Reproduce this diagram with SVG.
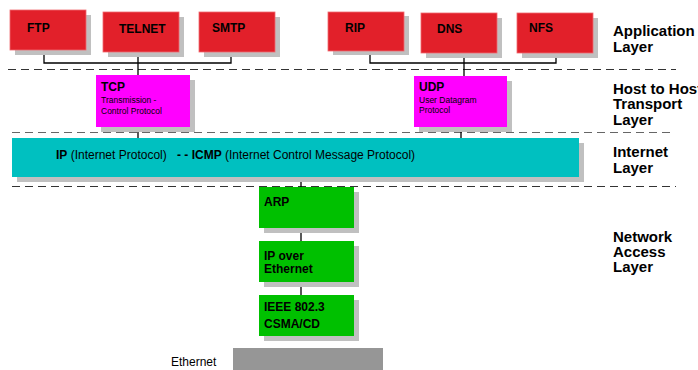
<svg xmlns="http://www.w3.org/2000/svg" width="698" height="370" viewBox="0 0 698 370">
<style>
text{font-family:"Liberation Sans",Arial,sans-serif;fill:#000}
.b{font-weight:bold;font-size:12px}
.s{font-size:8.5px}
.n{font-size:12px}
.lay{font-weight:bold;font-size:15px}
.sh{fill:#c0c0c0}
.red{fill:#e2202a;stroke:#ef6a70;stroke-width:0.8}
.mag{fill:#ff00ff}
.cy{fill:#00c0c0}
.gr{fill:#00c000}
.dash{stroke:#333;stroke-width:1.2;stroke-dasharray:8 5;fill:none}
.con{stroke:#000;stroke-width:1.3;fill:none}
</style>
<rect width="698" height="370" fill="#fff"/>
<g id="separators">
<line class="dash" x1="8" y1="69.5" x2="676" y2="69.5"/>
<line class="dash" x1="12" y1="132.5" x2="670" y2="132.5" style="stroke:#666"/>
<line class="dash" x1="12" y1="186.5" x2="676" y2="186.5"/>
</g>
<g id="connectors">
<path class="con" d="M44 54V63H231V57M138 52V75"/>
<path class="con" d="M370 54V63H556V57M464 53V76"/>
<path class="con" d="M138 127V138M461 127V138"/>
<path class="con" d="M301 177V187M301 228V241M301 282V295"/>
</g>
<g id="ftp"><rect class="sh" x="15" y="15" width="76" height="40"/><rect class="red" x="10" y="10" width="76" height="40"/><text class="b" x="27" y="32">FTP</text></g>
<g id="telnet"><rect class="sh" x="108" y="17" width="76" height="40"/><rect class="red" x="103" y="12" width="76" height="40"/><text class="b" x="119" y="33">TELNET</text></g>
<g id="smtp"><rect class="sh" x="204" y="17" width="76" height="40"/><rect class="red" x="199" y="12" width="76" height="40"/><text class="b" x="212" y="32">SMTP</text></g>
<g id="rip"><rect class="sh" x="333" y="16" width="76" height="39"/><rect class="red" x="328" y="12" width="76" height="39"/><text class="b" x="345" y="32">RIP</text></g>
<g id="dns"><rect class="sh" x="426" y="18" width="76" height="40"/><rect class="red" x="421" y="13" width="76" height="40"/><text class="b" x="437" y="33">DNS</text></g>
<g id="nfs"><rect class="sh" x="522" y="18" width="76" height="40"/><rect class="red" x="517" y="13" width="76" height="40"/><text class="b" x="529" y="32">NFS</text></g>
<g id="tcp"><rect class="sh" x="101" y="80" width="94" height="52"/><rect class="mag" x="96" y="75" width="94" height="52"/><text class="b" x="101" y="91">TCP</text><text class="s" x="101" y="103">Transmission -</text><text class="s" x="101" y="114">Control Protocol</text></g>
<g id="udp"><rect class="sh" x="419" y="81" width="93" height="51"/><rect class="mag" x="414" y="76" width="93" height="51"/><text class="b" x="419" y="91">UDP</text><text class="s" x="419" y="103">User Datagram</text><text class="s" x="419" y="113">Protocol</text></g>
<g id="ip"><rect class="sh" x="17" y="143" width="567" height="39"/><rect class="cy" x="12" y="138" width="567" height="39"/><text class="n" y="159"><tspan x="56" font-weight="bold">IP</tspan><tspan> (Internet Protocol)</tspan><tspan x="177" font-weight="bold">- - ICMP</tspan><tspan> (Internet Control Message Protocol)</tspan></text></g>
<g id="arp"><rect class="sh" x="264" y="192" width="95" height="41"/><rect class="gr" x="259" y="187" width="95" height="41"/><text class="b" x="264" y="206">ARP</text></g>
<g id="ipoe"><rect class="sh" x="264" y="246" width="95" height="41"/><rect class="gr" x="259" y="241" width="95" height="41"/><text class="b" x="264" y="260">IP over</text><text class="b" x="264" y="273">Ethernet</text></g>
<g id="ieee"><rect class="sh" x="264" y="300" width="95" height="41"/><rect class="gr" x="259" y="295" width="95" height="41"/><text class="b" x="264" y="311">IEEE 802.3</text><text class="b" x="264" y="328">CSMA/CD</text></g>
<g id="ethernet"><rect x="233" y="348" width="150" height="22" fill="#969696"/><text class="n" x="171" y="366">Ethernet</text></g>
<g id="layers">
<text class="lay" x="613" y="36">Application</text><text class="lay" x="613" y="52">Layer</text>
<text class="lay" x="613" y="94">Host to Host</text><text class="lay" x="613" y="109">Transport</text><text class="lay" x="613" y="125">Layer</text>
<text class="lay" x="613" y="157">Internet</text><text class="lay" x="613" y="173">Layer</text>
<text class="lay" x="613" y="242">Network</text><text class="lay" x="613" y="257">Access</text><text class="lay" x="613" y="272">Layer</text>
</g>
</svg>
